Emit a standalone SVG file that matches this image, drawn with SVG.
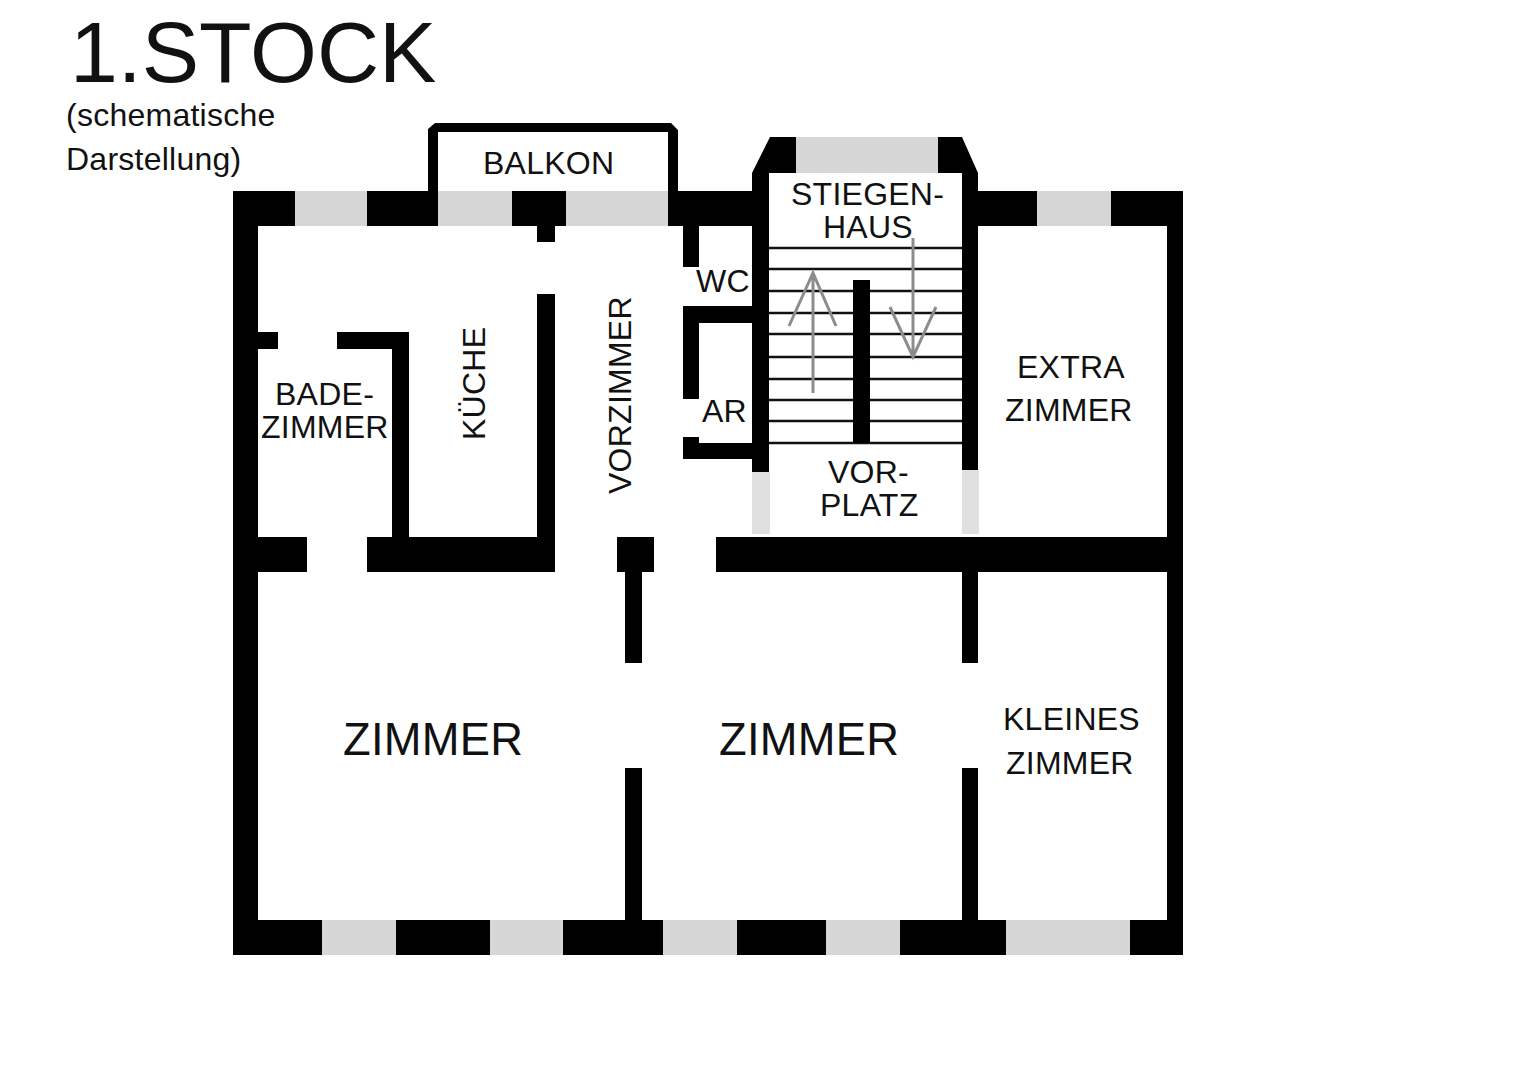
<svg xmlns="http://www.w3.org/2000/svg" width="1527" height="1080" viewBox="0 0 1527 1080">
<style>
.w{fill:#000}
.g{fill:#d6d6d6}
.l{fill:#e0e0e0}
.s{stroke:#111;stroke-width:2.5;fill:none}
.a{stroke:#8c8c8c;stroke-width:3;fill:none}
text{font-family:"Liberation Sans",Arial,sans-serif;fill:#111;font-size:32px;letter-spacing:.25px}
.big{font-size:45.3px}
</style>
<rect width="1527" height="1080" fill="#fff"/>
<g id="windows">
<rect class="g" x="295" y="191" width="72" height="35"/>
<rect class="g" x="438" y="191" width="74" height="35"/>
<rect class="g" x="566" y="191" width="102" height="35"/>
<rect class="g" x="796" y="137" width="142" height="36"/>
<rect class="g" x="1037" y="191" width="74" height="35"/>
<rect class="g" x="322" y="920" width="74" height="35"/>
<rect class="g" x="490" y="920" width="73" height="35"/>
<rect class="g" x="663" y="920" width="74" height="35"/>
<rect class="g" x="826" y="920" width="74" height="35"/>
<rect class="g" x="1006" y="920" width="124" height="35"/>
<rect class="l" x="752" y="472" width="18" height="62"/>
<rect class="l" x="962" y="470" width="17" height="64"/>
</g>
<g id="stairs">
<path class="s" d="M769 248H962M769 269H962M769 291H962M769 313H962M769 334H962M769 357H962M769 379H962M769 400H962M769 421H962M769 443H962"/>
</g>
<g id="walls">
<rect class="w" x="233" y="191" width="25" height="764"/>
<rect class="w" x="233" y="191" width="62" height="35"/>
<rect class="w" x="367" y="191" width="71" height="35"/>
<rect class="w" x="512" y="191" width="54" height="35"/>
<rect class="w" x="537" y="226" width="18" height="16"/>
<rect class="w" x="668" y="191" width="84" height="35"/>
<path class="w" d="M428 226V129L435 123H671L678 130V191H668V132H438V191H428Z"/>
<rect class="w" x="683" y="226" width="16" height="41"/>
<rect class="w" x="683" y="306" width="69" height="17"/>
<rect class="w" x="683" y="306" width="16" height="93"/>
<rect class="w" x="683" y="437" width="16" height="22"/>
<rect class="w" x="683" y="443" width="69" height="16"/>
<path class="w" d="M770 137H796V173H769V472H752V173Z"/>
<path class="w" d="M938 137H962L978 173V470H962V173H938Z"/>
<rect class="w" x="853" y="280" width="17" height="163"/>
<rect class="w" x="978" y="191" width="59" height="35"/>
<rect class="w" x="1111" y="191" width="72" height="35"/>
<rect class="w" x="1167" y="191" width="16" height="764"/>
<rect class="w" x="716" y="537" width="467" height="35"/>
<rect class="w" x="233" y="537" width="74" height="35"/>
<rect class="w" x="367" y="537" width="188" height="35"/>
<rect class="w" x="617" y="537" width="37" height="35"/>
<rect class="w" x="625" y="572" width="17" height="91"/>
<rect class="w" x="962" y="572" width="16" height="91"/>
<rect class="w" x="625" y="768" width="17" height="152"/>
<rect class="w" x="962" y="768" width="16" height="152"/>
<rect class="w" x="537" y="294" width="18" height="243"/>
<rect class="w" x="258" y="332" width="20" height="17"/>
<rect class="w" x="337" y="332" width="72" height="17"/>
<rect class="w" x="392" y="332" width="17" height="205"/>
<rect class="w" x="233" y="920" width="89" height="35"/>
<rect class="w" x="396" y="920" width="94" height="35"/>
<rect class="w" x="563" y="920" width="100" height="35"/>
<rect class="w" x="737" y="920" width="89" height="35"/>
<rect class="w" x="900" y="920" width="106" height="35"/>
<rect class="w" x="1130" y="920" width="53" height="35"/>
</g>
<g id="arrows">
<path class="a" d="M813 393V273M789 326L813 273L836 326"/>
<path class="a" d="M913 238V357M890 307L913 357L936 307"/>
</g>
<g id="labels">
<text x="70" y="82" style="font-size:86px;letter-spacing:0">1.STOCK</text>
<text x="66" y="126">(schematische</text>
<text x="66" y="170">Darstellung)</text>
<text x="483" y="174">BALKON</text>
<text x="791" y="205">STIEGEN-</text>
<text x="823" y="238">HAUS</text>
<text x="696" y="292">WC</text>
<text x="702" y="422">AR</text>
<text x="828" y="483">VOR-</text>
<text x="820" y="516">PLATZ</text>
<text x="1017" y="378">EXTRA</text>
<text x="1005" y="421">ZIMMER</text>
<text x="275" y="405">BADE-</text>
<text x="261" y="438">ZIMMER</text>
<text transform="translate(485,440) rotate(-90)">KÜCHE</text>
<text transform="translate(631,494) rotate(-90)">VORZIMMER</text>
<text class="big" x="343" y="755">ZIMMER</text>
<text class="big" x="719" y="755">ZIMMER</text>
<text x="1003" y="730">KLEINES</text>
<text x="1006" y="774">ZIMMER</text>
</g>
</svg>
